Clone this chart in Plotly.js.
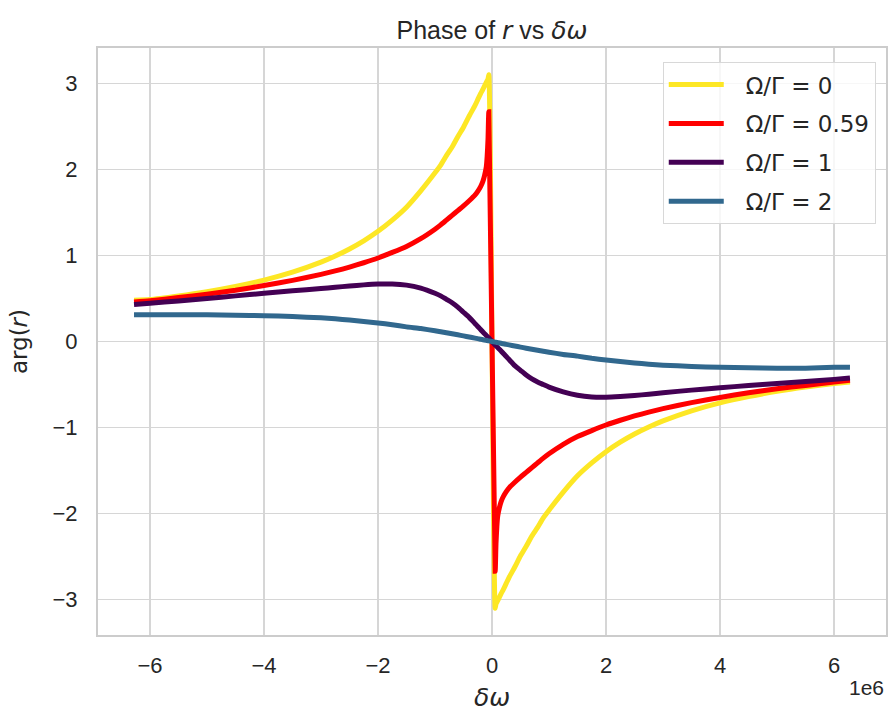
<!DOCTYPE html>
<html>
<head>
<meta charset="utf-8">
<script src="https://cdn.plot.ly/plotly-3.0.1.min.js"></script>
<style>
  html, body { margin: 0; padding: 0; background: #ffffff; }
  #chart { width: 889px; height: 716px; }
</style>
</head>
<body>
<div id="chart"></div>
<script>
// Detuning δω in units of 1e6 (shared sample points for every curve)
const detuning = [
  -6.28, -6, -5.5, -5, -4.5, -4, -3.5, -3, -2.75, -2.5, -2.25, -2, -1.75, -1.5, -1.25, -1,
  -0.9, -0.8, -0.7, -0.6, -0.5, -0.4, -0.3, -0.25, -0.2, -0.16, -0.13, -0.1, -0.085, -0.07, -0.056,
  0.056, 0.07, 0.085, 0.1, 0.13, 0.16, 0.2, 0.25, 0.3, 0.4, 0.5, 0.6, 0.7, 0.8, 0.9,
  1, 1.25, 1.5, 1.75, 2, 2.25, 2.5, 2.75, 3, 3.5, 4, 4.5, 5, 5.5, 6, 6.28
];

// arg(r) for each coupling ratio Ω/Γ
const phaseOmega0 = [
  0.48, 0.487, 0.529, 0.579, 0.64, 0.713, 0.805, 0.922, 0.993, 1.075, 1.17, 1.28, 1.41, 1.56, 1.75, 1.96,
  2.05, 2.16, 2.26, 2.38, 2.49, 2.62, 2.74, 2.81, 2.88, 2.93, 2.97, 3.01, 3.03, 3.05, 3.10,
  -3.10, -3.05, -3.03, -3.01, -2.97, -2.93, -2.88, -2.81, -2.74, -2.62, -2.49, -2.38, -2.26, -2.16, -2.05,
  -1.96, -1.75, -1.56, -1.41, -1.28, -1.17, -1.075, -0.993, -0.922, -0.805, -0.713, -0.64, -0.579, -0.529, -0.487, -0.47
];
const phaseOmega059 = [
  0.46, 0.475, 0.51, 0.55, 0.595, 0.65, 0.71, 0.78, 0.82, 0.865, 0.915, 0.97, 1.035, 1.105, 1.195, 1.305,
  1.355, 1.41, 1.465, 1.52, 1.575, 1.635, 1.70, 1.745, 1.80, 1.86, 1.93, 2.03, 2.15, 2.35, 2.67,
  -2.67, -2.35, -2.15, -2.03, -1.93, -1.86, -1.80, -1.745, -1.70, -1.635, -1.575, -1.52, -1.465, -1.41, -1.355,
  -1.305, -1.195, -1.105, -1.035, -0.97, -0.915, -0.865, -0.82, -0.78, -0.71, -0.65, -0.595, -0.55, -0.51, -0.47, -0.45
];
const phaseOmega1 = [
  0.43, 0.445, 0.47, 0.50, 0.53, 0.56, 0.59, 0.615, 0.63, 0.645, 0.658, 0.667, 0.668, 0.655, 0.62, 0.56,
  0.53, 0.49, 0.45, 0.40, 0.34, 0.28, 0.21, 0.175, 0.14, 0.11, 0.09, 0.07, 0.06, 0.05, 0.04,
  -0.04, -0.05, -0.06, -0.07, -0.09, -0.11, -0.14, -0.175, -0.21, -0.28, -0.335, -0.39, -0.435, -0.47, -0.50,
  -0.53, -0.585, -0.625, -0.645, -0.648, -0.64, -0.628, -0.612, -0.595, -0.565, -0.537, -0.512, -0.488, -0.465, -0.44, -0.425
];
const phaseOmega2 = [
  0.31, 0.31, 0.31, 0.31, 0.305, 0.30, 0.29, 0.275, 0.263, 0.25, 0.233, 0.215, 0.195, 0.17, 0.15, 0.125,
  0.114, 0.102, 0.09, 0.078, 0.065, 0.052, 0.039, 0.033, 0.026, 0.021, 0.017, 0.013, 0.011, 0.009, 0.007,
  -0.007, -0.009, -0.011, -0.013, -0.017, -0.021, -0.026, -0.033, -0.039, -0.052, -0.065, -0.078, -0.09, -0.102, -0.114,
  -0.125, -0.15, -0.17, -0.195, -0.215, -0.233, -0.25, -0.263, -0.275, -0.29, -0.30, -0.305, -0.31, -0.31, -0.30, -0.30
];

const seriesNames = ['Ω/Γ = 0', 'Ω/Γ = 0.59', 'Ω/Γ = 1', 'Ω/Γ = 2'];
const seriesValues = [phaseOmega0, phaseOmega059, phaseOmega1, phaseOmega2];
const seriesColors = ['#fde725', '#ff0000', '#440154', '#31688e'];

const traces = seriesValues.map((vals, i) => ({
  type: 'scatter',
  mode: 'lines',
  x: detuning,
  y: vals,
  name: seriesNames[i],
  legendgroup: 'g' + i,
  line: { color: seriesColors[i], width: 5, shape: 'spline', smoothing: 0.6 },
  hoverinfo: 'skip'
}));

const textColor = '#262626';
const gridColor = '#d6d6d6';
const mathFont = 'DejaVu Sans';
const mathItalic = s => `<span style="font-family:'${mathFont}'"><i>${s}</i></span>`;

const layout = {
  width: 889,
  height: 716,
  margin: { l: 98, r: 3, t: 48, b: 81 },
  paper_bgcolor: '#ffffff',
  plot_bgcolor: '#ffffff',
  font: { family: 'Liberation Sans, Arial, sans-serif', color: textColor, size: 22 },
  title: {
    text: 'Phase of ' + mathItalic('r') + ' vs ' + mathItalic('δω'),
    xref: 'paper', x: 0.5, xanchor: 'center',
    yref: 'container', y: 0.958, yanchor: 'middle',
    font: { size: 25, color: textColor }
  },
  xaxis: {
    range: [-6.912, 6.912],
    tickmode: 'array',
    tickvals: [-6, -4, -2, 0, 2, 4, 6],
    ticks: '',
    ticklabelstandoff: 10,
    showgrid: true, gridcolor: gridColor, gridwidth: 1.5,
    zeroline: false,
    showline: true, linecolor: '#cccccc', linewidth: 2, mirror: true,
    tickfont: { size: 22, color: textColor },
    title: { text: mathItalic('δω'), font: { size: 25, color: textColor }, standoff: 11 }
  },
  yaxis: {
    range: [-3.41, 3.41],
    tickmode: 'array',
    tickvals: [-3, -2, -1, 0, 1, 2, 3],
    ticks: '',
    ticklabelstandoff: 14,
    showgrid: true, gridcolor: gridColor, gridwidth: 1.5,
    zeroline: false,
    showline: true, linecolor: '#cccccc', linewidth: 2, mirror: true,
    tickfont: { size: 22, color: textColor },
    title: {
      text: `<span style="font-family:'${mathFont}'">arg(<i>r</i>)</span>`,
      font: { size: 23, color: textColor }, standoff: 18
    }
  },
  showlegend: true,
  legend: {
    x: 0.987, xanchor: 'right',
    y: 0.976, yanchor: 'top',
    bgcolor: 'rgba(255,255,255,0.8)',
    bordercolor: '#d8d8d8', borderwidth: 1,
    font: { family: 'DejaVu Sans, sans-serif', size: 23, color: textColor },
    traceorder: 'grouped',
    tracegroupgap: 6,
    itemwidth: 72
  },
  annotations: [{
    text: '1e6',
    xref: 'paper', yref: 'paper',
    x: 1.0, xanchor: 'right',
    y: -0.09, yanchor: 'middle',
    showarrow: false,
    font: { size: 21, color: textColor }
  }]
};

Plotly.newPlot('chart', traces, layout, { displayModeBar: false, staticPlot: true }).then(gd => {
  // lengthen the legend swatches so they fill the wider item slot
  gd.querySelectorAll('.legend .legendlines path').forEach(p => {
    p.setAttribute('d', 'M5,0h55');
  });
});
</script>
</body>
</html>
